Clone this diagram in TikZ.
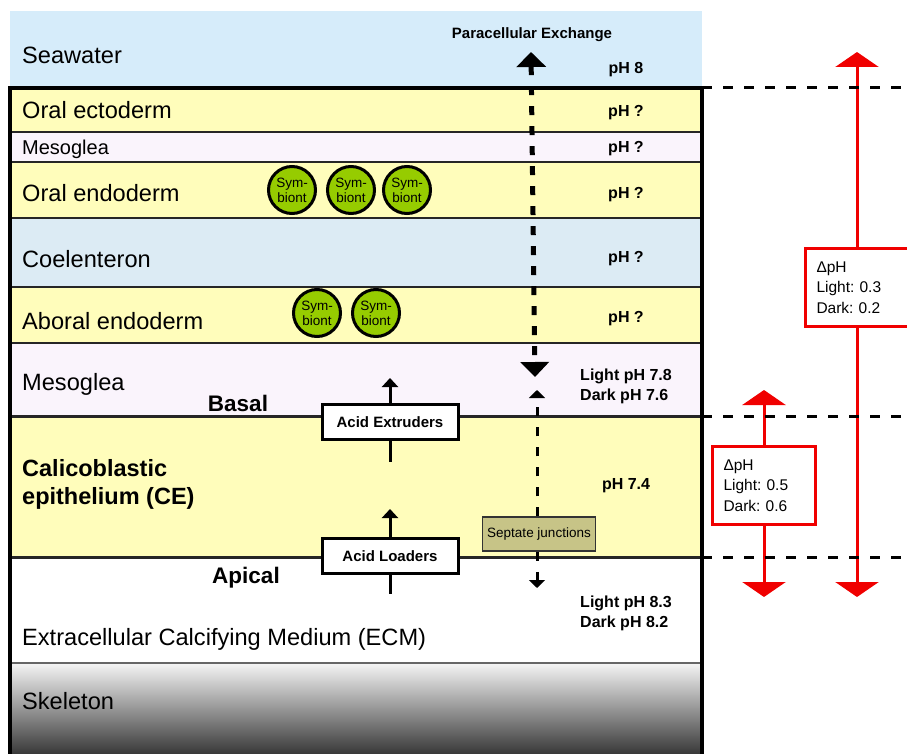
\documentclass[tikz,border=0pt]{standalone}
\usepackage{fontspec}
\setmainfont{Liberation Sans}
\usepackage{tikz}
\usetikzlibrary{arrows.meta}
\usepackage{xcolor}
\definecolor{ColSea}{RGB}{214,236,250}
\definecolor{ColTissue}{RGB}{255,253,187}
\definecolor{ColGlea}{RGB}{250,244,252}
\definecolor{ColCoel}{RGB}{220,235,244}
\definecolor{ColSymb}{RGB}{150,204,0}
\definecolor{ColJunct}{RGB}{199,196,135}
\definecolor{ColRed}{RGB}{240,0,0}
\tikzstyle{LayerLabel}=[anchor=base west,inner sep=0pt,font=\fontsize{23.6}{28}\selectfont]
\tikzstyle{SideLabel}=[anchor=base,inner sep=0pt,font=\bfseries\fontsize{22.5}{27}\selectfont]
\tikzstyle{PhLabel}=[inner sep=0pt,align=left,font=\bfseries\fontsize{16}{20}\selectfont]
\tikzstyle{SymbNode}=[circle,draw=black,fill=ColSymb,line width=3pt,minimum size=47pt,
inner sep=0pt,align=center,font=\fontsize{13.5}{15}\selectfont]
\tikzstyle{AcidBox}=[rectangle,draw=black,fill=white,line width=3pt,minimum width=136pt,
minimum height=35pt,font=\bfseries\fontsize{15}{18}\selectfont]
\tikzstyle{JunctBox}=[rectangle,draw=black!80,fill=ColJunct,line width=1.5pt,minimum width=113pt,
minimum height=34pt,inner sep=2pt,font=\fontsize{13.5}{16}\selectfont]
\tikzstyle{RedBox}=[rectangle,draw=ColRed,fill=white,line width=3pt,text width=81pt,
minimum height=78pt,inner xsep=11pt,align=left,font=\frenchspacing\fontsize{15.5}{20.5}\selectfont]
\tikzstyle{SepLine}=[line width=2.5pt,black!85]
\tikzstyle{LevelLine}=[line width=3pt,dash pattern=on 10pt off 11pt]
\tikzstyle{PumpArrow}=[line width=3pt,-{Triangle[width=16pt,length=9pt]}]
\tikzstyle{RedArrow}=[line width=3pt,ColRed,-{Triangle[width=43pt,length=15pt]}]
\tikzstyle{ParaArrow}=[line width=5pt,dash pattern=on 9pt off 11pt,
{Triangle[width=29pt,length=15pt]}-{Triangle[width=28pt,length=15pt]}]
\tikzstyle{JunctArrow}=[line width=3pt,dash pattern=on 9pt off 11pt,-{Triangle[width=16pt,length=8pt]}]

\begin{document}
\begin{tikzpicture}[x=1pt,y=-1pt]
        \useasboundingbox(0,0)rectangle(907,754);
        % layers
        \fill[ColSea](10,11)rectangle(702,88);
        \fill[ColTissue](10,88)rectangle(702,132);
        \fill[ColGlea](10,132)rectangle(702,162);
        \fill[ColTissue](10,162)rectangle(702,218);
        \fill[ColCoel](10,218)rectangle(702,287);
        \fill[ColTissue](10,287)rectangle(702,343);
        \fill[ColGlea](10,343)rectangle(702,416);
        \fill[ColTissue](10,416)rectangle(702,557);
        \shade[top color=black!4,bottom color=black!78](10,663)rectangle(702,754);
        \foreach \y in {132,162,218,287,343}{\draw[SepLine](10,\y)--(702,\y);}
        \draw[SepLine,line width=3pt](10,416)--(702,416);
        \draw[SepLine,line width=3pt](10,557)--(702,557);
        \draw[SepLine,line width=1.5pt,black!60](10,663)--(702,663);
        \draw[line width=3.5pt](10,754)--(10,88)--(702,88)--(702,754);
        % layer names
        \node[LayerLabel](sea)at(22,64){Seawater};
        \node[LayerLabel](oec)at(22,119){Oral ectoderm};
        \node[LayerLabel,font=\fontsize{20}{24}\selectfont](mes1)at(22,155){Mesoglea};
        \node[LayerLabel](oen)at(22,202){Oral endoderm};
        \node[LayerLabel](coe)at(22,267){Coelenteron};
        \node[LayerLabel](aen)at(22,329){Aboral endoderm};
        \node[LayerLabel](mes2)at(22,390){Mesoglea};
        \node[LayerLabel,anchor=west,align=left,font=\bfseries\fontsize{23.5}{28}\selectfont](ce)at(22,484)
            {Calicoblastic\\epithelium (CE)};
        \node[LayerLabel](ecm)at(22,645){Extracellular Calcifying Medium (ECM)};
        \node[LayerLabel](skel)at(22,709){Skeleton};
        \node[SideLabel](basal)at(238,411){Basal};
        \node[SideLabel](apical)at(246,583){Apical};
        % pH values
        \node[PhLabel,anchor=base](ph0)at(626,74){pH 8};
        \foreach \y/\n in {117/1,153/2,198/3,262/4,322/5}{\node[PhLabel,anchor=base](ph\n)at(626,\y){pH ?};}
        \node[PhLabel](phM)at(626,386){Light pH 7.8\\Dark pH 7.6};
        \node[PhLabel,anchor=base](phC)at(626,489){pH 7.4};
        \node[PhLabel](phE)at(626,613){Light pH 8.3\\Dark pH 8.2};
        \node[PhLabel,anchor=base,font=\bfseries\fontsize{15}{18}\selectfont](para)at(532,39){Paracellular Exchange};
        % symbionts
        \foreach \x/\n in {292/1,351/2,407/3}{\node[SymbNode](so\n)at(\x,190){Sym-\\biont};}
        \foreach \x/\n in {317/1,376/2}{\node[SymbNode](sa\n)at(\x,313){Sym-\\biont};}
        % paracellular path
        \coordinate(pTop)at(531,52);
        \coordinate(pBot)at(535,377);
        \draw[ParaArrow](pTop)--(pBot);
        \node[JunctBox](sept)at(539,534){Septate junctions};
        \coordinate(jTop)at(537,390);
        \coordinate(jBot)at(537,588);
        \draw[JunctArrow](sept.north-|jTop)--(jTop);
        \draw[JunctArrow](sept.south-|jBot)--(jBot);
        % transporters
        \node[AcidBox](ext)at(390,422){Acid Extruders};
        \node[AcidBox](load)at(390,556){Acid Loaders};
        \coordinate(extTip)at(390,378);
        \coordinate(extTail)at(390,462);
        \coordinate(loadTip)at(390,509);
        \coordinate(loadTail)at(390,594);
        \draw[PumpArrow](ext.north)--(extTip);
        \draw[line width=3pt](ext.south)--(extTail);
        \draw[PumpArrow](load.north)--(loadTip);
        \draw[line width=3pt](load.south)--(loadTail);
        % gradients
        \node[RedBox](dBig)at(857,287.5){ΔpH\\Light: 0.3\\Dark: 0.2};
        \node[RedBox](dSmall)at(764,485.5){ΔpH\\Light: 0.5\\Dark: 0.6};
        \coordinate(bigTop)at(857,52);
        \coordinate(bigBot)at(857,597);
        \coordinate(smTop)at(764,390);
        \coordinate(smBot)at(764,597);
        \draw[RedArrow](dBig.north)--(bigTop);
        \draw[RedArrow](dBig.south)--(bigBot);
        \draw[RedArrow](dSmall.north)--(smTop);
        \draw[RedArrow](dSmall.south)--(smBot);
        \foreach \y in {88,416,557}{\draw[LevelLine](702,\y)--(907,\y);}
    \end{tikzpicture}
\end{document}
